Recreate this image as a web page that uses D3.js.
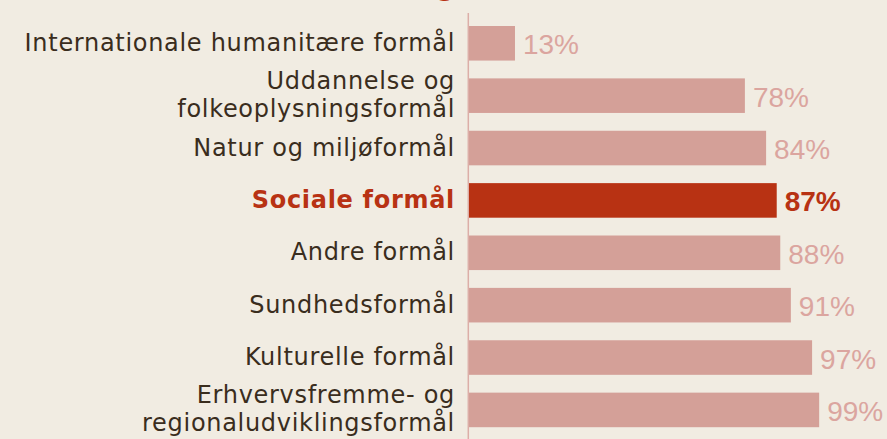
<!DOCTYPE html>
<html><head><meta charset="utf-8">
<script src="https://cdn.jsdelivr.net/npm/d3@7"></script>
<style>
html,body{margin:0;padding:0;background:#f1ece2;}
svg{display:block;}
</style></head>
<body>
<svg id="c" width="887" height="439"></svg>
<script>
const categories = [
  ["Internationale humanitære formål"],
  ["Uddannelse og", "folkeoplysningsformål"],
  ["Natur og miljøformål"],
  ["Sociale formål"],
  ["Andre formål"],
  ["Sundhedsformål"],
  ["Kulturelle formål"],
  ["Erhvervsfremme- og", "regionaludviklingsformål"]
];
const values = [13, 78, 84, 87, 88, 91, 97, 99];
const highlight = "Sociale formål";

const W = 887, H = 439;
const FONT = "'DejaVu Sans', sans-serif";
const VFONT = "'Liberation Sans', Arial, sans-serif";
const svg = d3.select("#c");
svg.append("rect").attr("width", W).attr("height", H).attr("fill", "#f1ece2");

const data = categories.map((c, i) => ({lines: c, key: c.join(" "), value: values[i]}));

const x = d3.scaleLinear().domain([0, 100]).range([469, 822.7]);
const y = d3.scaleBand().domain(data.map(d => d.key)).range([17.1, 436.1]).paddingInner(0.34).paddingOuter(0.17);

// title fragment (cut off at the top, as in the reference)
svg.append("text").attr("x", 446).attr("y", -5).attr("text-anchor", "middle")
  .attr("font-family", FONT).attr("font-weight", "bold").attr("font-size", 26)
  .attr("fill", "#b83213").text("g");

// axis line
svg.append("line").attr("x1", 468.3).attr("x2", 468.3).attr("y1", 13).attr("y2", H)
  .attr("stroke", "#dcaea8").attr("stroke-width", 1.5);

const g = svg.append("g");
g.selectAll("rect.bar").data(data).join("rect").attr("class", "bar")
  .attr("x", x(0)).attr("y", d => y(d.key))
  .attr("width", d => x(d.value) - x(0)).attr("height", y.bandwidth())
  .attr("fill", d => d.key === highlight ? "#b83213" : "#d4a098");

g.selectAll("text.val").data(data).join("text").attr("class", "val")
  .attr("x", d => x(d.value) + 8)
  .attr("y", d => y(d.key) + y.bandwidth() / 2 + 11)
  .attr("font-family", VFONT).attr("font-size", 28)
  .attr("font-weight", d => d.key === highlight ? "bold" : "normal")
  .attr("fill", d => d.key === highlight ? "#b83213" : "#dba59f")
  .text(d => d.value + "%");

const lab = g.selectAll("text.lab").data(data).join("text").attr("class", "lab")
  .attr("text-anchor", "end")
  .attr("font-family", FONT).attr("font-size", 24)
  .attr("letter-spacing", 0.7)
  .attr("font-weight", d => d.key === highlight ? "bold" : "normal")
  .attr("fill", d => d.key === highlight ? "#b83213" : "#3a2d1d");
lab.each(function(d) {
  const n = d.lines.length;
  const cy = y(d.key) + y.bandwidth() / 2 + 7.5;
  const lh = 28;
  d3.select(this).selectAll("tspan").data(d.lines).join("tspan")
    .attr("x", 455)
    .attr("y", (t, i) => cy + (i - (n - 1) / 2) * lh)
    .text(t => t);
});
</script>
</body></html>
